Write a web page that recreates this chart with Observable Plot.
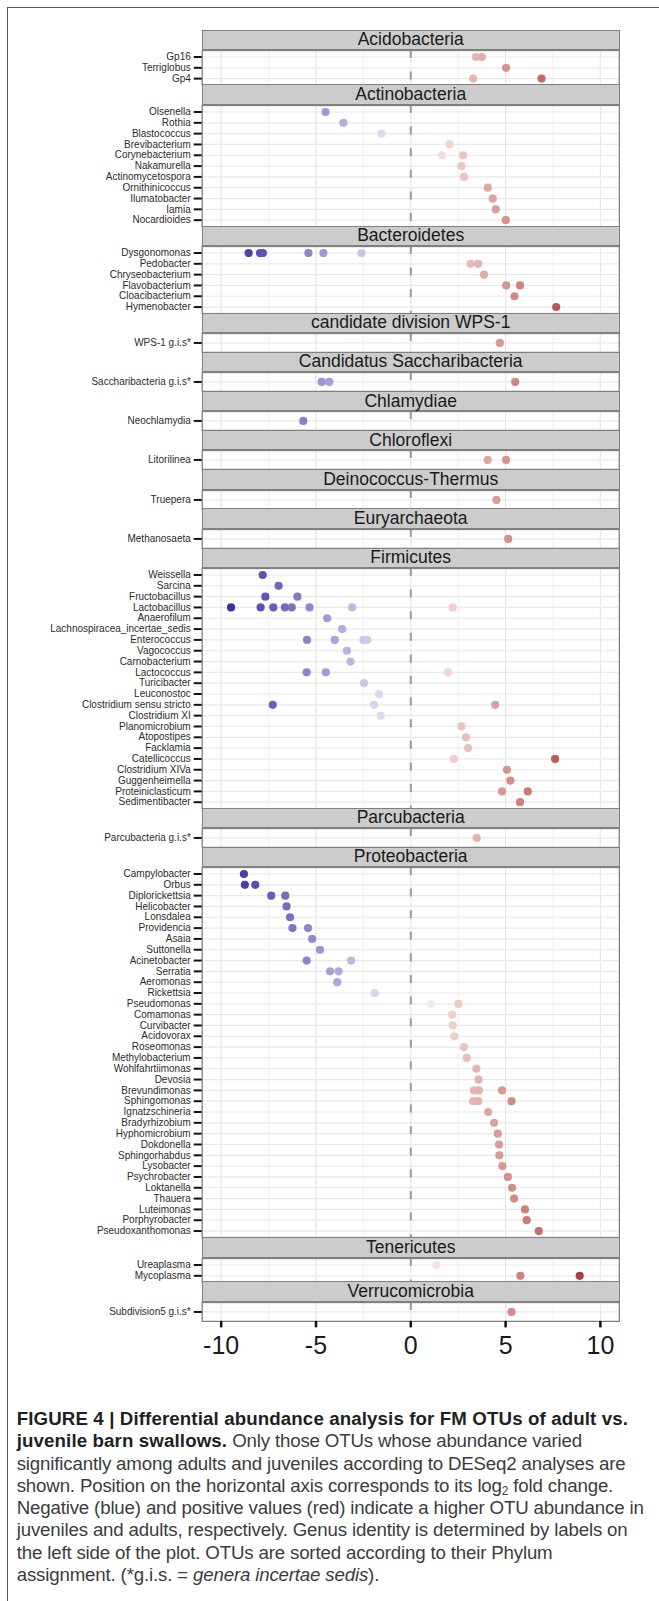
<!DOCTYPE html>
<html>
<head>
<meta charset="utf-8">
<script src="https://cdn.jsdelivr.net/npm/d3@7"></script>
<script src="https://cdn.jsdelivr.net/npm/@observablehq/plot@0.6"></script>
<style>
  body { margin: 0; background: #fff; }
  #fig { position: relative; width: 659px; height: 1601px; overflow: hidden; font-family: "Liberation Sans", Arial, sans-serif; }
  .outer { position: absolute; left: 7px; top: 7px; width: 700px; height: 1610px; border-left: 1.2px solid #555; border-top: 1.2px solid #555; }
  .strip { position: absolute; left: 201.7px; width: 418px; background: #cccccc; border: 1.3px solid #808080; box-sizing: border-box;
           display: flex; align-items: center; justify-content: center; color: #1a1a1a; font-size: 17.5px; line-height: 1; }
  .panel { position: absolute; left: 0; }
  .panel svg { overflow: visible; }
  .caption { position: absolute; left: 16.7px; top: 1408px; font-size: 18.7px; line-height: 22.3px; white-space: nowrap; color: #3c3c3c; letter-spacing: -0.17px; }
  .caption b { color: #1f1f1f; letter-spacing: 0.12px; }
  .caption sub { font-size: 12px; line-height: 0; vertical-align: -3px; }
</style>
</head>
<body>
<div id="fig"><div class="outer"></div></div>
<script>
// ---- data: phylum names and, per phylum, genus labels with their log2 fold changes ----
const phyla = ["Acidobacteria", "Actinobacteria", "Bacteroidetes", "candidate division WPS-1",
  "Candidatus Saccharibacteria", "Chlamydiae", "Chloroflexi", "Deinococcus-Thermus",
  "Euryarchaeota", "Firmicutes", "Parcubacteria", "Proteobacteria", "Tenericutes", "Verrucomicrobia"];

const acidobacteria = [["Gp16", [3.44, 3.75]], ["Terriglobus", [5.03]], ["Gp4", [3.29, 6.90]]];
const actinobacteria = [["Olsenella", [-4.50]], ["Rothia", [-3.55]], ["Blastococcus", [-1.54]],
  ["Brevibacterium", [2.05]], ["Corynebacterium", [1.65, 2.76]], ["Nakamurella", [2.67]],
  ["Actinomycetospora", [2.80]], ["Ornithinicoccus", [4.06]], ["Ilumatobacter", [4.32]],
  ["Iamia", [4.48]], ["Nocardioides", [5.01]]];
const bacteroidetes = [["Dysgonomonas", [-8.55, -7.95, -7.80, -5.40, -4.61, -2.60]],
  ["Pedobacter", [3.15, 3.55]], ["Chryseobacterium", [3.86]], ["Flavobacterium", [5.03, 5.76]],
  ["Cloacibacterium", [5.47]], ["Hymenobacter", [7.67]]];
const wps1 = [["WPS-1 g.i.s*", [4.70]]];
const saccharibacteria = [["Saccharibacteria g.i.s*", [-4.70, -4.30, 5.51]]];
const chlamydiae = [["Neochlamydia", [-5.67]]];
const chloroflexi = [["Litorilinea", [4.06, 5.03]]];
const deinococcus = [["Truepera", [4.52]]];
const euryarchaeota = [["Methanosaeta", [5.14]]];
const firmicutes = [["Weissella", [-7.81]], ["Sarcina", [-6.97]], ["Fructobacillus", [-7.67, -5.98]],
  ["Lactobacillus", [-9.48, -7.92, -7.25, -6.64, -6.28, -5.34, -3.09, 2.21]],
  ["Anaerofilum", [-4.41]], ["Lachnospiracea_incertae_sedis", [-3.62]],
  ["Enterococcus", [-5.47, -4.01, -2.50, -2.30]], ["Vagococcus", [-3.37]], ["Carnobacterium", [-3.18]],
  ["Lactococcus", [-5.49, -4.48, 1.96]], ["Turicibacter", [-2.47]], ["Leuconostoc", [-1.68]],
  ["Clostridium sensu stricto", [-7.28, -1.94, 4.45]], ["Clostridium XI", [-1.59]],
  ["Planomicrobium", [2.67]], ["Atopostipes", [2.91]], ["Facklamia", [3.02]],
  ["Catellicoccus", [2.27, 7.61]], ["Clostridium XIVa", [5.07]], ["Guggenheimella", [5.25]],
  ["Proteiniclasticum", [4.81, 6.17]], ["Sedimentibacter", [5.76]]];
const parcubacteria = [["Parcubacteria g.i.s*", [3.48]]];
const proteobacteria = [["Campylobacter", [-8.80]], ["Orbus", [-8.75, -8.20]],
  ["Diplorickettsia", [-7.36, -6.62]], ["Helicobacter", [-6.55]], ["Lonsdalea", [-6.37]],
  ["Providencia", [-6.24, -5.42]], ["Asaia", [-5.20]], ["Suttonella", [-4.79]],
  ["Acinetobacter", [-5.49, -3.15]], ["Serratia", [-4.26, -3.81]], ["Aeromonas", [-3.88]],
  ["Rickettsia", [-1.90]], ["Pseudomonas", [1.08, 2.51]], ["Comamonas", [2.18]],
  ["Curvibacter", [2.21]], ["Acidovorax", [2.29]], ["Roseomonas", [2.80]],
  ["Methylobacterium", [2.95]], ["Wohlfahrtiimonas", [3.46]], ["Devosia", [3.57]],
  ["Brevundimonas", [3.33, 3.59, 4.81]], ["Sphingomonas", [3.29, 3.55, 5.31]],
  ["Ignatzschineria", [4.08]], ["Bradyrhizobium", [4.39]], ["Hyphomicrobium", [4.59]],
  ["Dokdonella", [4.65]], ["Sphingorhabdus", [4.67]], ["Lysobacter", [4.83]],
  ["Psychrobacter", [5.12]], ["Loktanella", [5.34]], ["Thauera", [5.45]],
  ["Luteimonas", [6.02]], ["Porphyrobacter", [6.11]], ["Pseudoxanthomonas", [6.75]]];
const tenericutes = [["Ureaplasma", [1.35]], ["Mycoplasma", [5.78, 8.91]]];
const verrucomicrobia = [["Subdivision5 g.i.s*", [5.31]]];

const xTicks = [-10, -5, 0, 5, 10];
const xMinor = [-7.5, -2.5, 2.5, 7.5];

const groups = [acidobacteria, actinobacteria, bacteroidetes, wps1, saccharibacteria, chlamydiae,
  chloroflexi, deinococcus, euryarchaeota, firmicutes, parcubacteria, proteobacteria, tenericutes, verrucomicrobia];

// ---- layout ----
const W = 659, ML = 201.7, MR = 40.1;
const top0 = 29.5, stripH = 20.2, singleH = 18.9, unit = 10.82;
const allVals = groups.flatMap(g => g.flatMap(([, v]) => v));
const colorScale = {
  type: "diverging", pivot: 0, symmetric: true,
  domain: [d3.min(allVals), d3.max(allVals)],
  range: ["#3333a2", "#ffffff", "#a23333"], interpolate: "lab"
};

const fig = document.getElementById("fig");
let y = top0;
groups.forEach((g, i) => {
  const strip = document.createElement("div");
  strip.className = "strip";
  strip.style.top = y + "px";
  strip.style.height = stripH + "px";
  strip.textContent = phyla[i];
  y += stripH;

  const n = g.length;
  const h = n === 1 ? singleH : unit * (n + 0.2);
  const last = i === groups.length - 1;
  const genera = g.map(d => d[0]);
  const pts = g.flatMap(([genus, vals]) => vals.map(v => ({genus, v})));

  const marks = [
    Plot.ruleX(xMinor, {stroke: "#f2f2f2", strokeWidth: 1.2}),
    Plot.ruleX(xTicks, {stroke: "#e6e6e6", strokeWidth: 1.2}),
    Plot.ruleY(genera, {stroke: "#e8e8e8", strokeWidth: 1.2}),
    Plot.ruleX([0], {stroke: "#a0a0a0", strokeWidth: 2.2, strokeDasharray: "8,13.6"}),
    Plot.dot(pts, {x: "v", y: "genus", fill: "v", r: 4.1}),
    Plot.frame({stroke: "#808080", strokeWidth: 1.3}),
    Plot.axisY({tickSize: 8, tickPadding: 3.5, fontSize: 10, stroke: "#111", strokeWidth: 2, fill: "#2b2b2b", label: null})
  ];
  if (last) {
    marks.push(Plot.axisX(xTicks, {tickSize: 6.5, tickPadding: 8.5, fontSize: 25, stroke: "#111", strokeWidth: 2.5,
      fill: "#1a1a1a", tickFormat: d => String(d), label: null}));
  }
  const chart = Plot.plot({
    width: W, height: h + (last ? 45 : 0),
    marginLeft: ML, marginRight: MR, marginTop: 0, marginBottom: last ? 45 : 0,
    style: {fontFamily: "Liberation Sans, Arial, sans-serif", background: "transparent", overflow: "visible"},
    x: {domain: [-11, 11], axis: null},
    y: {type: "point", domain: genera, padding: 0.6, round: false, axis: null},
    color: colorScale,
    marks
  });
  const wrap = document.createElement("div");
  wrap.className = "panel";
  wrap.style.top = y + "px";
  wrap.appendChild(chart);
  fig.appendChild(wrap);
  fig.appendChild(strip);
  y += h;
});

const cap = document.createElement("div");
cap.className = "caption";
cap.innerHTML =
  "<b>FIGURE 4 | Differential abundance analysis for FM OTUs of adult vs.</b><br>" +
  "<b>juvenile barn swallows.</b> Only those OTUs whose abundance varied<br>" +
  "significantly among adults and juveniles according to DESeq2 analyses are<br>" +
  "shown. Position on the horizontal axis corresponds to its log<sub>2</sub> fold change.<br>" +
  "Negative (blue) and positive values (red) indicate a higher OTU abundance in<br>" +
  "juveniles and adults, respectively. Genus identity is determined by labels on<br>" +
  "the left side of the plot. OTUs are sorted according to their Phylum<br>" +
  "assignment. (*g.i.s. = <i>genera incertae sedis</i>).";
fig.appendChild(cap);
</script>
</body>
</html>
